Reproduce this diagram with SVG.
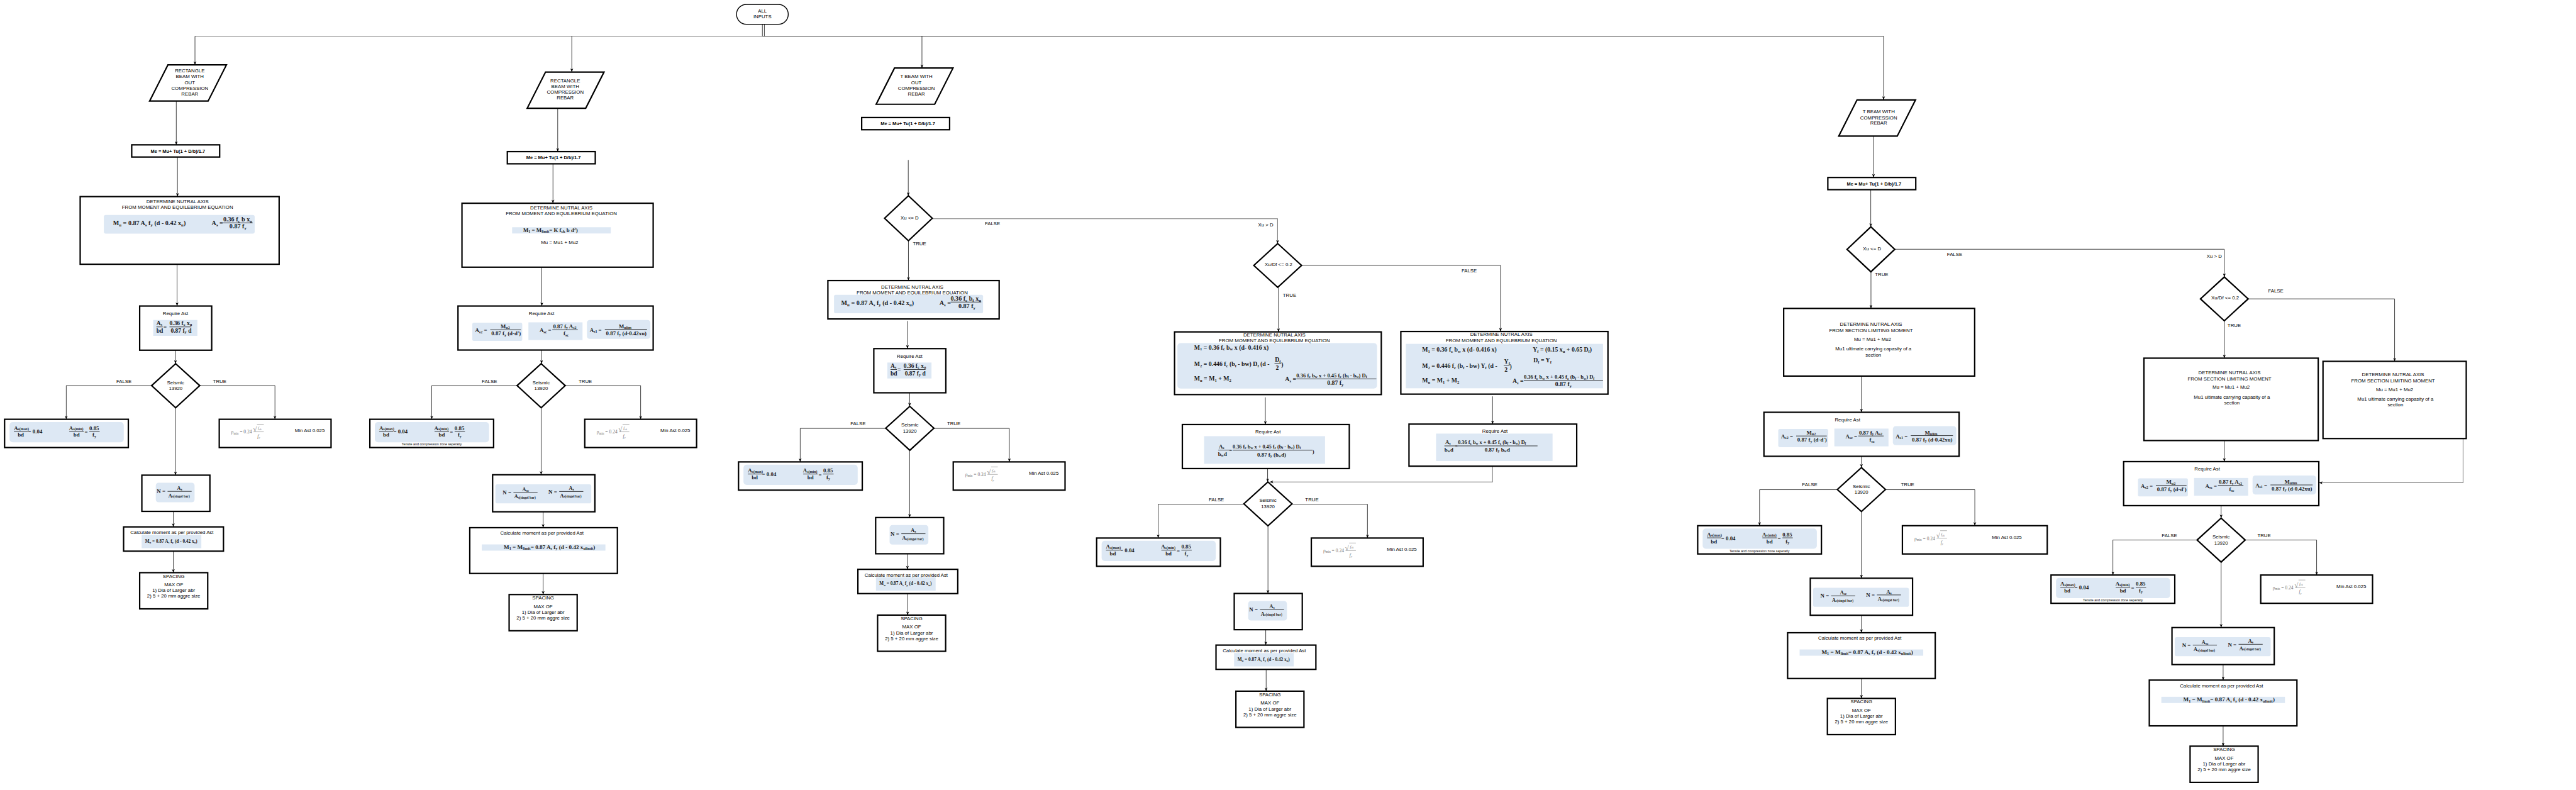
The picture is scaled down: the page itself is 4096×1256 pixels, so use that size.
<svg xmlns="http://www.w3.org/2000/svg" width="4096" height="1256" viewBox="0 0 4096 1256">
<style>
.bx{fill:#fff;stroke:#000;stroke-width:3.5}
.rt{fill:#fff;stroke:#000;stroke-width:2.2}
.t{font-family:"Liberation Sans",Arial,sans-serif;font-size:12.4px;fill:#000;text-anchor:middle}
.ts{font-family:"Liberation Sans",Arial,sans-serif;font-size:12.4px;fill:#000;text-anchor:start}
.te{font-family:"Liberation Sans",Arial,sans-serif;font-size:12.4px;fill:#000;text-anchor:end}
.tb{font-family:"Liberation Sans",Arial,sans-serif;font-size:11.8px;font-weight:bold;fill:#000;text-anchor:middle}
.tn{font-family:"Liberation Sans",Arial,sans-serif;font-size:8.5px;fill:#000;text-anchor:middle}
.fm{font-family:"Liberation Serif","Times New Roman",serif;font-weight:bold;fill:#1a1a1a}
.sb{font-size:68%}
.sh{fill:#dde8f4}
.c{fill:none;stroke:#000;stroke-width:1.2}
.cg{fill:none;stroke:#777;stroke-width:1.6}
.a{marker-end:url(#ah)}
.fl{fill:none;stroke:#000;stroke-width:1.2}
.rho{font-family:"Liberation Serif","Times New Roman",serif;fill:#777;font-size:12px}
</style>
<defs>
<marker id="ah" viewBox="0 0 10 10" refX="10" refY="5" markerWidth="9" markerHeight="9" markerUnits="userSpaceOnUse" orient="auto"><path d="M0,1L10,5L0,9L3,5z" fill="#000"/></marker>
<g id="f-mu"><text class="fm" font-size="16">M<tspan class="sb" dy="3">u</tspan><tspan dy="-3"> = 0.87 A</tspan><tspan class="sb" dy="3">s</tspan><tspan dy="-3"> f</tspan><tspan class="sb" dy="3">y</tspan><tspan dy="-3"> (d - 0.42 x</tspan><tspan class="sb" dy="3">u</tspan><tspan dy="-3">)</tspan></text></g>
<g id="f-n"><text class="fm" font-size="14" x="0" y="5">N =</text><path class="fl" d="M27,0H87.5"/><text class="fm" font-size="13" x="29" y="15">A<tspan font-size="8.5" dy="1">s(singel bar)</tspan></text></g>
<g id="tpl-para"><polygon class="bx" points="46,0 193,0 147,91 0,91"/></g>
<g id="tpl-me"><rect class="bx" width="221" height="30.6"/><text class="tb" x="116" y="19.5">Me = Mu+ Tu(1 + D/b)/1.7</text></g>
<g id="tpl-seis"><polygon class="bx" points="60.5,0 121,55 60.5,110.5 0,55"/><text class="t" x="60.5" y="51">Seismic</text><text class="t" x="60.5" y="66">13920</text></g>
<g id="tpl-xu"><polygon class="bx" points="60,0 120,56.5 60,113 0,56.5"/><text class="t" x="63" y="59">Xu &lt;= D</text></g>
<g id="tpl-xudf"><polygon class="bx" points="60,0 120,55 60,110 0,55"/><text class="t" x="62" y="57">Xu/Df &lt;= 0.2</text></g>
<g id="tpl-req1"><rect class="bx" width="181" height="111"/><text class="t" x="90" y="23">Require Ast</text><rect class="sh" x="34" y="35" width="111" height="40"/>
<g class="fm" font-size="15"><text x="42" y="48">A<tspan class="sb" dy="2">s</tspan></text><text x="42" y="67">bd</text><text x="59.5" y="58">=</text><text x="75" y="48">0.36 f<tspan class="sb" dy="2">c</tspan><tspan dy="-2"> x</tspan><tspan class="sb" dy="2">u</tspan></text><text x="78" y="67">0.87 f<tspan class="sb" dy="2">y</tspan><tspan dy="-2"> d</tspan></text></g>
<path class="fl" d="M42,52.5H58M75,52.5H130"/></g>
<g id="tpl-left"><rect class="bx" width="311" height="71"/><rect class="sh" x="12.5" y="7" width="287" height="51" rx="8"/>
<g class="fm" font-size="14"><text x="23.5" y="27">A<tspan class="sb" dy="1">s(max)</tspan></text><text x="33" y="44">bd</text><text x="59" y="36">= 0.04</text><text x="162" y="27">A<tspan class="sb" dy="1">s(min)</tspan></text><text x="173" y="44">bd</text><text x="201" y="37">=</text><text x="213" y="27">0.85</text><text x="221" y="44">f<tspan class="sb" dy="2">y</tspan></text></g>
<path class="fl" d="M23.5,30.5H58.5M162.6,30.5H199M213,30.5H239"/></g>
<g id="tpl-rho"><g class="rho"><text x="30" y="36">ρ<tspan font-size="8" dy="2">min</tspan><tspan dy="-2"> = 0.24</tspan></text><text x="85" y="31" font-size="17">√</text><text x="97" y="26" font-size="10" font-style="italic">f<tspan font-size="7" dy="1">ck</tspan></text><text x="96" y="46" font-style="italic">f<tspan font-size="7" dy="2">y</tspan></text></g>
<path d="M86,31.5H112M95,12.5H112" stroke="#888" stroke-width="1" fill="none"/></g>
<g id="tpl-right"><rect class="bx" width="281" height="71"/><use href="#tpl-rho"/><text class="ts" x="190" y="33">Min Ast 0.025</text></g>
<g id="tpl-n1"><rect class="bx" width="171" height="91"/><rect class="sh" x="35" y="19" width="97.5" height="49" rx="7"/><use href="#f-n" x="37.6" y="40.7"/><text class="fm" font-size="13" x="95" y="37" text-anchor="middle">A<tspan class="sb" dy="2">s</tspan></text></g>
<g id="tpl-calc1"><rect class="bx" width="251" height="61"/><text class="t" x="121.4" y="18">Calculate moment as per provided Ast</text><rect class="sh" x="45.4" y="20" width="150" height="33.6"/><use href="#f-mu" transform="translate(54,39.5) scale(0.72)"/></g>
<g id="tpl-sp"><rect class="bx" width="171" height="91"/><text class="t" x="85.5" y="12.8">SPACING</text><text class="t" x="85.5" y="33.7">MAX OF</text><text class="t" x="85.5" y="48.9">1) Dia of Larger abr</text><text class="t" x="85.5" y="63">2) 5 + 20 mm aggre size</text></g>
<g id="tpl-req2"><rect class="bx" width="490.5" height="110.6"/><text class="t" x="210" y="23">Require Ast</text>
<rect class="sh" x="36" y="42" width="125.5" height="45.6" rx="4"/><rect class="sh" x="177" y="41" width="136" height="44.6"/><rect class="sh" x="324" y="35" width="159.5" height="47.5" rx="7"/>
<g class="fm" font-size="14"><text x="43" y="66">A<tspan class="sb" dy="2">s2</tspan><tspan dy="-2"> =</tspan></text><text x="118.7" y="56" text-anchor="middle">M<tspan class="sb" dy="2">u2</tspan></text><text x="121" y="74" text-anchor="middle">0.87 f<tspan class="sb" dy="2">y</tspan><tspan dy="-2"> (d-d')</tspan></text>
<text x="205" y="66">A<tspan class="sb" dy="2">sc</tspan><tspan dy="-2"> =</tspan></text><text x="239" y="56">0.87 f<tspan class="sb" dy="2">y</tspan><tspan dy="-2"> A</tspan><tspan class="sb" dy="2">s2</tspan></text><text x="271.6" y="74" text-anchor="middle">f<tspan class="sb" dy="2">sc</tspan></text>
<text x="331" y="65">A<tspan class="sb" dy="2">s1</tspan><tspan dy="-2"> =</tspan></text><text x="420" y="55.5" text-anchor="middle">M<tspan class="sb" dy="2">ulim</tspan></text><text x="372" y="73">0.87 f<tspan class="sb" dy="2">y</tspan><tspan dy="-2"> (d-0.42xu)</tspan></text></g>
<path class="fl" d="M81,59.6H158M237,59.6H301M369,58.6H475"/></g>
<g id="tpl-n2"><rect class="bx" width="257" height="93"/><rect class="sh" x="7" y="24" width="241" height="48" rx="5"/><use href="#f-n" x="25.4" y="44.2"/><text class="fm" font-size="13" x="83" y="40.7" text-anchor="middle">A<tspan class="sb" dy="2">sc</tspan></text><use href="#f-n" x="140.4" y="42"/><text class="fm" font-size="13" x="197.9" y="38.5" text-anchor="middle">A<tspan class="sb" dy="2">s</tspan></text></g>
<g id="tpl-calc2"><rect class="bx" width="371" height="115"/><text class="t" x="181.4" y="18">Calculate moment as per provided Ast</text><rect class="sh" x="30.2" y="42" width="310.7" height="15.7"/><text class="fm" font-size="14.5" x="85.4" y="54">M<tspan class="sb" dy="2">1</tspan><tspan dy="-2"> = M</tspan><tspan class="sb" dy="2">limit</tspan><tspan dy="-2">= 0.87 A</tspan><tspan class="sb" dy="2">s</tspan><tspan dy="-2"> f</tspan><tspan class="sb" dy="2">y</tspan><tspan dy="-2"> (d - 0.42 x</tspan><tspan class="sb" dy="2">ulimit</tspan><tspan dy="-2">)</tspan></text></g>
<g id="tpl-detsec"><text class="t" x="0" y="0">DETERMINE NUTRAL AXIS</text><text class="t" x="0" y="15.7">FROM  SECTION LIMITING MOMENT</text><text class="t" x="4" y="37.5">Mu = Mu1  +  Mu2</text><text class="t" x="6" y="61.6">Mu1 ultimate carrying capasity of a</text><text class="t" x="6" y="76.5">section</text></g>
</defs>
<rect width="4096" height="1256" fill="#fff"/>
<g transform="scale(0.6327)">
<g id="connectors">
<path class="cg" d="M490,91H1916"/>
<path class="c" d="M1916,91H4733.7" stroke="#555"/>
<path class="c a" d="M490,91V163"/>
<path class="c a" d="M1437,91V181"/>
<path class="c a" d="M2317,91V171"/>
<path class="c a" d="M4733.7,91V251"/>
<path class="c" d="M1916,61V91M1921,61V91"/>
<path class="c a" d="M443,254V364"/>
<path class="c a" d="M446,394V494"/>
<path class="c a" d="M445,664V769"/>
<path class="c a" d="M441,880V914"/>
<path class="c a" d="M381,969H166.5V1053.6"/>
<path class="c a" d="M502,969H691V1053.6"/>
<path class="c a" d="M441,1024.5V1194"/>
<path class="c a" d="M435.6,1284.7V1324"/>
<path class="c a" d="M435.6,1385V1439"/>
<text class="t" x="311.5" y="962">FALSE</text><text class="t" x="552" y="962">TRUE</text>
<path class="c a" d="M1401.6,271V381"/>
<path class="c a" d="M1389.7,411V510.7"/>
<path class="c a" d="M1361.6,671.4V769"/>
<path class="c a" d="M1361,879.6V914"/>
<path class="c a" d="M1300.6,969H1085V1053.6"/>
<path class="c a" d="M1420.5,969H1610V1053.6"/>
<path class="c a" d="M1360,1024.5V1193"/>
<path class="c a" d="M1365,1286V1326"/>
<path class="c a" d="M1365,1441V1494"/>
<text class="t" x="1230" y="962">FALSE</text><text class="t" x="1471" y="962">TRUE</text>
<path class="c a" d="M2282.6,402V492"/>
<path class="cg a" d="M2343,549.5H3210.7V612"/>
<path class="c a" d="M2283,605V705"/>
<path class="c a" d="M2280.5,806.6V876"/>
<path class="c a" d="M2286,986V1021"/>
<path class="c a" d="M2226.5,1076.5H2011V1160.7"/>
<path class="c a" d="M2346.5,1076.5H2536.6V1160.7"/>
<path class="c a" d="M2286,1131.6V1300.5"/>
<path class="c a" d="M2280.5,1391V1430.6"/>
<path class="c a" d="M2281,1491V1545.6"/>
<text class="ts" x="2475" y="566">FALSE</text><text class="ts" x="2294" y="616">TRUE</text>
<text class="t" x="2156.4" y="1068.5">FALSE</text><text class="t" x="2397" y="1068.5">TRUE</text>
<text class="te" x="3200" y="569">Xu &gt; D</text>
<path class="c a" d="M3213,722V834"/>
<path class="c a" d="M3271.4,666.8H3771V833"/>
<path class="c a" d="M3180,998.5V1066.8"/>
<path class="c a" d="M3751,996V1065.7"/>
<path class="c a" d="M3185.7,1177.4V1211"/>
<path class="cg a" d="M3751,1171.4V1211H3191"/>
<path class="c a" d="M3126.8,1267H2910.7V1352"/>
<path class="c a" d="M3246.4,1267H3436.6V1352"/>
<path class="c a" d="M3186.6,1323V1491.3"/>
<path class="c a" d="M3181,1582.4V1621"/>
<path class="c a" d="M3182,1682.5V1736.8"/>
<text class="ts" x="3224" y="746">TRUE</text><text class="ts" x="3673" y="684">FALSE</text>
<text class="t" x="3057" y="1260">FALSE</text><text class="t" x="3297" y="1260">TRUE</text>
<path class="c a" d="M4708.4,341.6V446"/>
<path class="c a" d="M4701.5,477V570"/>
<path class="c a" d="M4702,681.4V775"/>
<path class="c a" d="M4762,626.3H5590V696"/>
<path class="c a" d="M4678,945V1036"/>
<path class="c a" d="M4678,1146.6V1175"/>
<path class="c a" d="M4617.5,1230.5H4422V1321"/>
<path class="c a" d="M4738.5,1230.5H4963V1321"/>
<path class="c a" d="M4678,1285.5V1453"/>
<path class="c a" d="M4678,1546V1590"/>
<path class="c a" d="M4678,1705V1755"/>
<text class="ts" x="4712" y="693.7">TRUE</text><text class="ts" x="4893" y="643.8">FALSE</text>
<text class="t" x="4548" y="1222">FALSE</text><text class="t" x="4794" y="1222">TRUE</text>
<text class="te" x="5584" y="648">Xu &gt; D</text>
<path class="c a" d="M5590,806V900"/>
<path class="c a" d="M5650,751H6018V908"/>
<path class="c a" d="M5590,1107V1160"/>
<path class="cg a" d="M6190,1102V1213H5828"/>
<path class="c a" d="M5582,1270.6V1302"/>
<path class="c a" d="M5521.5,1357H5310V1445"/>
<path class="c a" d="M5642.5,1357H5822V1445"/>
<path class="c a" d="M5582,1412.5V1577"/>
<path class="c a" d="M5587,1670V1709"/>
<path class="c a" d="M5587,1824V1875"/>
<text class="ts" x="5598" y="822">TRUE</text><text class="ts" x="5700" y="735">FALSE</text>
<text class="t" x="5452" y="1350">FALSE</text><text class="t" x="5690" y="1350">TRUE</text>
</g>
<g id="nodes">
<g id="n-root"><rect class="rt" x="1851" y="11" width="130" height="50" rx="25"/><text class="t" x="1916" y="31.8">ALL</text><text class="t" x="1916" y="46.6">INPUTS</text></g>

<g id="n-c1-para" transform="translate(376,163)"><use href="#tpl-para"/><text class="t" x="101" y="18.8">RECTANGLE</text><text class="t" x="101" y="33.3">BEAM WITH</text><text class="t" x="101" y="48.3">OUT</text><text class="t" x="101" y="62.3">COMPRESSION</text><text class="t" x="101" y="77.3">REBAR</text></g>
<g id="n-c1-me" transform="translate(331,364)"><use href="#tpl-me"/></g>
<g id="n-c1-det"><rect class="bx" x="201.5" y="494" width="500" height="170"/><text class="t" x="446" y="510.3">DETERMINE NUTRAL AXIS</text><text class="t" x="446" y="524.8">FROM MOMENT AND EQUILEBRIUM EQUATION</text><rect class="sh" x="261" y="540" width="379" height="47" rx="5"/><use href="#f-mu" transform="translate(284,566)"/>
<text class="fm" font-size="16" x="532" y="566">A<tspan class="sb" dy="3">s</tspan><tspan dy="-3"> =</tspan></text><text class="fm" font-size="16" x="561" y="556">0.36 f<tspan class="sb" dy="3">c</tspan><tspan dy="-3"> b x</tspan><tspan class="sb" dy="3">u</tspan></text><path class="fl" d="M561,560H635"/><text class="fm" font-size="16" x="598" y="574" text-anchor="middle">0.87 f<tspan class="sb" dy="3">y</tspan></text></g>
<g id="n-c1-req" transform="translate(351,769)"><use href="#tpl-req1"/></g>
<g id="n-c1-seis" transform="translate(381,914)"><use href="#tpl-seis"/></g>
<g id="n-c1-left" transform="translate(11.5,1053.6)"><use href="#tpl-left"/></g>
<g id="n-c1-right" transform="translate(551,1053.6)"><use href="#tpl-right"/></g>
<g id="n-c1-n" transform="translate(356.5,1194)"><use href="#tpl-n1"/></g>
<g id="n-c1-calc" transform="translate(310.6,1324)"><use href="#tpl-calc1"/></g>
<g id="n-c1-sp" transform="translate(351,1439)"><use href="#tpl-sp"/></g>

<g id="n-c2-para" transform="translate(1325,181)"><use href="#tpl-para"/><text class="t" x="95.5" y="26">RECTANGLE</text><text class="t" x="95.5" y="40.6">BEAM WITH</text><text class="t" x="95.5" y="55">COMPRESSION</text><text class="t" x="95.5" y="68.7">REBAR</text></g>
<g id="n-c2-me" transform="translate(1275,381)"><use href="#tpl-me"/></g>
<g id="n-c2-det"><rect class="bx" x="1161" y="510.7" width="480.5" height="160.7"/><text class="t" x="1410.7" y="525.7">DETERMINE NUTRAL AXIS</text><text class="t" x="1410.7" y="540.3">FROM MOMENT AND EQUILEBRIUM EQUATION</text><rect class="sh" x="1287" y="571" width="248" height="15.7"/><text class="fm" font-size="14" x="1315" y="583.5">M<tspan class="sb" dy="2">1</tspan><tspan dy="-2"> = M</tspan><tspan class="sb" dy="2">limit</tspan><tspan dy="-2">= K f</tspan><tspan class="sb" dy="2">ck</tspan><tspan dy="-2"> b d</tspan><tspan class="sb" dy="-5">2</tspan><tspan dy="5">)</tspan></text><text class="t" x="1406.5" y="614">Mu = Mu1  +  Mu2</text></g>
<g id="n-c2-req" transform="translate(1151,769)"><use href="#tpl-req2"/></g>
<g id="n-c2-seis" transform="translate(1299.5,914)"><use href="#tpl-seis"/></g>
<g id="n-c2-left" transform="translate(929.5,1053.6)"><use href="#tpl-left"/><text class="tn" x="155.5" y="66">Tensile and compression zone seperatly</text></g>
<g id="n-c2-right" transform="translate(1469.6,1053.6)"><use href="#tpl-right"/></g>
<g id="n-c2-n" transform="translate(1238,1193)"><use href="#tpl-n2"/></g>
<g id="n-c2-calc" transform="translate(1180.6,1326)"><use href="#tpl-calc2"/></g>
<g id="n-c2-sp" transform="translate(1279.5,1494)"><use href="#tpl-sp"/></g>

<g id="n-c3-para" transform="translate(2202,171)"><use href="#tpl-para"/><text class="t" x="101" y="25.6">T BEAM WITH</text><text class="t" x="101" y="41">OUT</text><text class="t" x="101" y="54.7">COMPRESSION</text><text class="t" x="101" y="68.5">REBAR</text></g>
<g id="n-c3-me" transform="translate(2165.5,295.4)"><use href="#tpl-me"/></g>
<g id="n-c3-xu" transform="translate(2223,492)"><use href="#tpl-xu"/></g>
<g id="n-c3-det"><rect class="bx" x="2080.6" y="705" width="430.4" height="96.5"/><text class="t" x="2292.5" y="724.7">DETERMINE NUTRAL AXIS</text><text class="t" x="2292.5" y="739.5">FROM MOMENT AND EQUILEBRIUM EQUATION</text><rect class="sh" x="2096" y="741" width="374.6" height="46" rx="4"/><use href="#f-mu" transform="translate(2114,767)"/>
<text class="fm" font-size="16" x="2361" y="767">A<tspan class="sb" dy="3">s</tspan><tspan dy="-3"> =</tspan></text><text class="fm" font-size="16" x="2389" y="755">0.36 f<tspan class="sb" dy="3">c</tspan><tspan dy="-3"> b</tspan><tspan class="sb" dy="3">f</tspan><tspan dy="-3"> x</tspan><tspan class="sb" dy="3">u</tspan></text><path class="fl" d="M2389,759H2466"/><text class="fm" font-size="16" x="2430" y="774" text-anchor="middle">0.87 f<tspan class="sb" dy="3">y</tspan></text></g>
<g id="n-c3-req" transform="translate(2196,876)"><use href="#tpl-req1"/></g>
<g id="n-c3-seis" transform="translate(2226,1021)"><use href="#tpl-seis"/></g>
<g id="n-c3-left" transform="translate(1856,1160.7)"><use href="#tpl-left"/></g>
<g id="n-c3-right" transform="translate(2395.6,1160.7)"><use href="#tpl-right"/></g>
<g id="n-c3-n" transform="translate(2200.6,1300.5)"><use href="#tpl-n1"/></g>
<g id="n-c3-calc" transform="translate(2156,1430.6)"><use href="#tpl-calc1"/></g>
<g id="n-c3-sp" transform="translate(2205.5,1545.6)"><use href="#tpl-sp"/></g>

<g id="n-c3-xudf" transform="translate(3151,612)"><use href="#tpl-xudf"/></g>
<g id="n-c3b-det"><rect class="bx" x="2951.8" y="834" width="519.6" height="157.5"/><text class="t" x="3202.7" y="845.6">DETERMINE NUTRAL AXIS</text><text class="t" x="3202.7" y="860.3">FROM MOMENT AND EQUILEBRIUM EQUATION</text><rect class="sh" x="2959" y="862" width="501.7" height="114.3" rx="8"/>
<g class="fm" font-size="15.5"><text x="3001" y="878">M<tspan class="sb" dy="3">1</tspan><tspan dy="-3"> = 0.36 f</tspan><tspan class="sb" dy="3">c</tspan><tspan dy="-3"> b</tspan><tspan class="sb" dy="3">w</tspan><tspan dy="-3"> x (d- 0.416 x)</tspan></text>
<text x="3001" y="920">M<tspan class="sb" dy="3">2</tspan><tspan dy="-3"> = 0.446 f</tspan><tspan class="sb" dy="3">c</tspan><tspan dy="-3"> (b</tspan><tspan class="sb" dy="3">f</tspan><tspan dy="-3"> - bw) D</tspan><tspan class="sb" dy="3">f</tspan><tspan dy="-3"> (d -</tspan></text>
<text x="3204" y="909">D<tspan class="sb" dy="3">f</tspan></text><text x="3206" y="929">2</text><text x="3220" y="922">)</text>
<text x="3001" y="957">M<tspan class="sb" dy="3">u</tspan><tspan dy="-3"> = M</tspan><tspan class="sb" dy="3">1</tspan><tspan dy="-3"> + M</tspan><tspan class="sb" dy="3">2</tspan></text>
<text x="3229.5" y="958">A<tspan class="sb" dy="3">s</tspan><tspan dy="-3"> =</tspan></text>
<text x="3258" y="948" font-size="13.5">0.36 f<tspan class="sb" dy="2">c</tspan><tspan dy="-2"> b</tspan><tspan class="sb" dy="2">w</tspan><tspan dy="-2"> x  + 0.45 f</tspan><tspan class="sb" dy="2">c</tspan><tspan dy="-2"> (b</tspan><tspan class="sb" dy="2">f</tspan><tspan dy="-2"> - b</tspan><tspan class="sb" dy="2">w</tspan><tspan dy="-2">) D</tspan><tspan class="sb" dy="2">f</tspan></text>
<text x="3356" y="967" text-anchor="middle">0.87 f<tspan class="sb" dy="3">y</tspan></text></g>
<path class="fl" d="M3203,913.4H3220M3258,952H3459"/></g>
<g id="n-c3c-det"><rect class="bx" x="3520.5" y="833" width="520.5" height="157.4"/><text class="t" x="3773" y="844.5">DETERMINE NUTRAL AXIS</text><text class="t" x="3773" y="859.7">FROM MOMENT AND EQUILEBRIUM EQUATION</text><rect class="sh" x="3533" y="864" width="495.6" height="111.7"/>
<g class="fm" font-size="15.5"><text x="3574" y="883">M<tspan class="sb" dy="3">1</tspan><tspan dy="-3"> = 0.36 f</tspan><tspan class="sb" dy="3">c</tspan><tspan dy="-3"> b</tspan><tspan class="sb" dy="3">w</tspan><tspan dy="-3"> x (d- 0.416 x)</tspan></text>
<text x="3852" y="884">Y<tspan class="sb" dy="3">f</tspan><tspan dy="-3"> = (0.15 x</tspan><tspan class="sb" dy="3">u</tspan><tspan dy="-3">  + 0.65 D</tspan><tspan class="sb" dy="3">f</tspan><tspan dy="-3">)</tspan></text>
<text x="3853.6" y="911">D<tspan class="sb" dy="3">f</tspan><tspan dy="-3"> = Y</tspan><tspan class="sb" dy="3">f</tspan></text>
<text x="3574" y="924.5">M<tspan class="sb" dy="3">2</tspan><tspan dy="-3"> = 0.446 f</tspan><tspan class="sb" dy="3">c</tspan><tspan dy="-3"> (b</tspan><tspan class="sb" dy="3">f</tspan><tspan dy="-3"> - bw) Y</tspan><tspan class="sb" dy="3">f</tspan><tspan dy="-3"> (d -</tspan></text>
<text x="3780" y="913">Y<tspan class="sb" dy="3">f</tspan></text><text x="3781" y="934">2</text><text x="3794" y="926">)</text>
<text x="3574" y="961">M<tspan class="sb" dy="3">u</tspan><tspan dy="-3"> = M</tspan><tspan class="sb" dy="3">1</tspan><tspan dy="-3"> + M</tspan><tspan class="sb" dy="3">2</tspan></text>
<text x="3801" y="962">A<tspan class="sb" dy="3">s</tspan><tspan dy="-3"> =</tspan></text>
<text x="3829.5" y="952" font-size="13.5">0.36 f<tspan class="sb" dy="2">c</tspan><tspan dy="-2"> b</tspan><tspan class="sb" dy="2">w</tspan><tspan dy="-2"> x  + 0.45 f</tspan><tspan class="sb" dy="2">c</tspan><tspan dy="-2"> (b</tspan><tspan class="sb" dy="2">f</tspan><tspan dy="-2"> - b</tspan><tspan class="sb" dy="2">w</tspan><tspan dy="-2">) D</tspan><tspan class="sb" dy="2">f</tspan></text>
<text x="3929" y="971" text-anchor="middle">0.87 f<tspan class="sb" dy="3">y</tspan></text></g>
<path class="fl" d="M3779,918H3794M3829.5,955.7H4028.6"/></g>
<g id="n-c3b-req"><rect class="bx" x="2971.4" y="1066.8" width="419.6" height="110.6"/><text class="t" x="3186.6" y="1089">Require Ast</text><rect class="sh" x="3026" y="1096" width="304" height="69.5"/>
<g class="fm" font-size="14"><text x="3063" y="1127">A<tspan class="sb" dy="2">s</tspan></text><text x="3061" y="1146">b<tspan class="sb" dy="2">w</tspan><tspan dy="-2">d</tspan></text><text x="3089" y="1136">=</text>
<text x="3098" y="1127" font-size="13">0.36 f<tspan class="sb" dy="2">c</tspan><tspan dy="-2"> b</tspan><tspan class="sb" dy="2">w</tspan><tspan dy="-2"> x  + 0.45 f</tspan><tspan class="sb" dy="2">c</tspan><tspan dy="-2"> (b</tspan><tspan class="sb" dy="2">f</tspan><tspan dy="-2"> - b</tspan><tspan class="sb" dy="2">w</tspan><tspan dy="-2">) D</tspan><tspan class="sb" dy="2">f</tspan></text>
<text x="3196" y="1147" text-anchor="middle">0.87 f<tspan class="sb" dy="2">y</tspan><tspan dy="-2"> (b</tspan><tspan class="sb" dy="2">w</tspan><tspan dy="-2">d)</tspan></text><text x="3298" y="1139">)</text></g>
<path class="fl" d="M3061.6,1131H3093M3098,1131.3H3298"/></g>
<g id="n-c3c-req"><rect class="bx" x="3541" y="1065.7" width="421.5" height="105.7"/><text class="t" x="3757" y="1088">Require Ast</text><rect class="sh" x="3609" y="1089.6" width="292.8" height="68.8"/>
<g class="fm" font-size="14"><text x="3632" y="1116">A<tspan class="sb" dy="2">s</tspan></text><text x="3630" y="1135">b<tspan class="sb" dy="2">w</tspan><tspan dy="-2">d</tspan></text><text x="3657" y="1126">=</text>
<text x="3664" y="1116" font-size="13">0.36 f<tspan class="sb" dy="2">c</tspan><tspan dy="-2"> b</tspan><tspan class="sb" dy="2">w</tspan><tspan dy="-2"> x  + 0.45 f</tspan><tspan class="sb" dy="2">c</tspan><tspan dy="-2"> (b</tspan><tspan class="sb" dy="2">f</tspan><tspan dy="-2"> - b</tspan><tspan class="sb" dy="2">w</tspan><tspan dy="-2">) D</tspan><tspan class="sb" dy="2">f</tspan></text>
<text x="3763" y="1135" text-anchor="middle">0.87 f<tspan class="sb" dy="2">y</tspan><tspan dy="-2"> b</tspan><tspan class="sb" dy="2">w</tspan><tspan dy="-2">d</tspan></text></g>
<path class="fl" d="M3630,1120.5H3661M3664,1120.5H3864"/></g>
<g id="n-c3b-seis" transform="translate(3126,1211)"><use href="#tpl-seis"/></g>
<g id="n-c3b-left" transform="translate(2756,1352)"><use href="#tpl-left"/></g>
<g id="n-c3b-right" transform="translate(3295.5,1352)"><use href="#tpl-right"/></g>
<g id="n-c3b-n" transform="translate(3101.8,1491.3)"><use href="#tpl-n1"/></g>
<g id="n-c3b-calc" transform="translate(3056,1621)"><use href="#tpl-calc1"/></g>
<g id="n-c3b-sp" transform="translate(3106,1736.8)"><use href="#tpl-sp"/></g>

<g id="n-c4-para" transform="translate(4621,251)"><use href="#tpl-para"/><text class="t" x="100.4" y="34">T BEAM WITH</text><text class="t" x="100.4" y="49">COMPRESSION</text><text class="t" x="100.4" y="62.7">REBAR</text></g>
<g id="n-c4-me" transform="translate(4593.6,446)"><use href="#tpl-me"/></g>
<g id="n-c4-xu" transform="translate(4641.8,570)"><use href="#tpl-xu"/></g>
<g id="n-c4-det"><rect class="bx" x="4482.6" y="775" width="480" height="170"/><use href="#tpl-detsec" x="4702" y="819.3"/></g>
<g id="n-c4-req" transform="translate(4433,1036)"><use href="#tpl-req2"/></g>
<g id="n-c4-seis" transform="translate(4617.5,1175)"><use href="#tpl-seis"/></g>
<g id="n-c4-left" transform="translate(4266.5,1321)"><use href="#tpl-left"/><text class="tn" x="155.5" y="66">Tensile and compression zone seperatly</text></g>
<g id="n-c4-right" transform="translate(4781,1321)"><rect class="bx" width="364" height="71"/><use href="#tpl-rho"/><text class="ts" x="225" y="33">Min Ast 0.025</text></g>
<g id="n-c4-n" transform="translate(4549.5,1453)"><use href="#tpl-n2"/></g>
<g id="n-c4-calc" transform="translate(4492.5,1590)"><use href="#tpl-calc2"/></g>
<g id="n-c4-sp" transform="translate(4592.5,1755)"><use href="#tpl-sp"/></g>

<g id="n-c4-xudf" transform="translate(5530,696)"><use href="#tpl-xudf"/></g>
<g id="n-c4b-det"><rect class="bx" x="5388" y="900" width="438" height="207"/><use href="#tpl-detsec" x="5603" y="940"/></g>
<g id="n-c4c-det"><rect class="bx" x="5838" y="908" width="360" height="194"/><use href="#tpl-detsec" x="6014" y="945"/></g>
<g id="n-c4b-req" transform="translate(5337,1160)"><use href="#tpl-req2"/></g>
<g id="n-c4b-seis" transform="translate(5521.5,1302)"><use href="#tpl-seis"/></g>
<g id="n-c4b-left" transform="translate(5154.5,1445)"><use href="#tpl-left"/><text class="tn" x="155.5" y="66">Tensile and compression zone seperatly</text></g>
<g id="n-c4b-right" transform="translate(5681.5,1445)"><use href="#tpl-right"/></g>
<g id="n-c4b-n" transform="translate(5458.5,1577)"><use href="#tpl-n2"/></g>
<g id="n-c4b-calc" transform="translate(5401.5,1709)"><use href="#tpl-calc2"/></g>
<g id="n-c4b-sp" transform="translate(5504,1875)"><use href="#tpl-sp"/></g>
</g>
</g>
</svg>
